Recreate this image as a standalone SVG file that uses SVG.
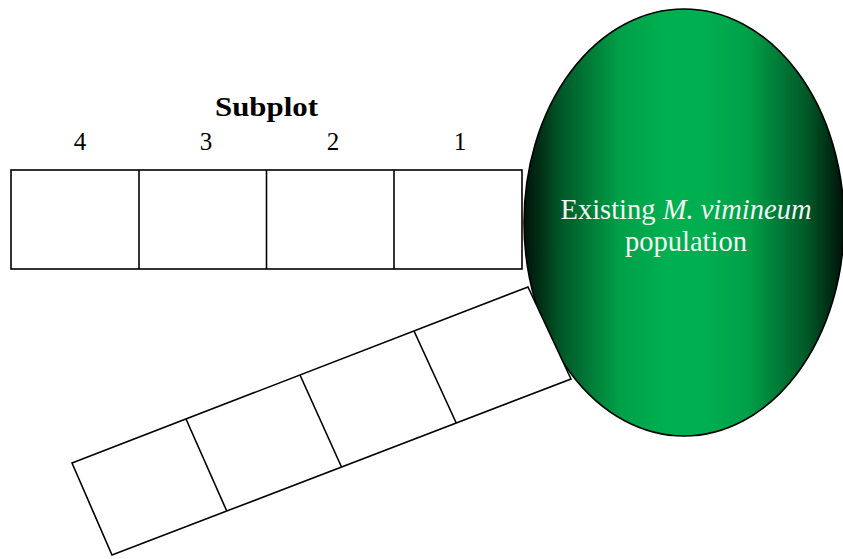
<svg xmlns="http://www.w3.org/2000/svg" width="843" height="559" viewBox="0 0 843 559">
  <defs>
    <linearGradient id="popFill" x1="0" y1="0" x2="1" y2="0">
      <stop offset="0" stop-color="#001208"/>
      <stop offset="0.12" stop-color="#005a28"/>
      <stop offset="0.3" stop-color="#00a048"/>
      <stop offset="0.45" stop-color="#00b050"/>
      <stop offset="0.55" stop-color="#00b050"/>
      <stop offset="0.7" stop-color="#00a048"/>
      <stop offset="0.88" stop-color="#005a28"/>
      <stop offset="1" stop-color="#001208"/>
    </linearGradient>
    <style>
      .cell { fill: #ffffff; stroke: #000000; stroke-width: 1.6; stroke-linejoin: miter; }
      .div { fill: none; stroke: #000000; stroke-width: 1.6; }
      .lbl { font-family: "Liberation Serif", "Times New Roman", serif; fill: #000000; text-anchor: middle; }
      .pop { font-family: "Liberation Serif", "Times New Roman", serif; fill: #f4f4f4; text-anchor: middle; font-size: 28.5px; }
    </style>
  </defs>

  <!-- source population -->
  <g id="population">
    <ellipse cx="684" cy="222.5" rx="160" ry="213.5" fill="url(#popFill)" stroke="#000000" stroke-width="1.6"/>
    <text class="pop" x="686" y="219">Existing <tspan font-style="italic">M. vimineum</tspan></text>
    <text class="pop" x="686" y="251">population</text>
  </g>

  <!-- horizontal transect of four subplots -->
  <g id="transect-horizontal">
    <rect class="cell" x="11" y="170" width="511" height="99"/>
    <line class="div" x1="139" y1="170" x2="139" y2="269"/>
    <line class="div" x1="266.5" y1="170" x2="266.5" y2="269"/>
    <line class="div" x1="394" y1="170" x2="394" y2="269"/>
  </g>

  <!-- diagonal transect of four subplots -->
  <g id="transect-diagonal">
    <polygon class="cell" points="72,463 528,287 571,379 112,555"/>
    <line class="div" x1="186" y1="419" x2="226.75" y2="511"/>
    <line class="div" x1="300" y1="375" x2="341.5" y2="467"/>
    <line class="div" x1="414" y1="331" x2="456.25" y2="423"/>
  </g>

  <!-- labels -->
  <g id="labels">
    <text class="lbl" x="266.5" y="115.5" font-size="27" font-weight="bold" textLength="103" lengthAdjust="spacingAndGlyphs">Subplot</text>
    <text class="lbl" x="80" y="150" font-size="25">4</text>
    <text class="lbl" x="206" y="150" font-size="25">3</text>
    <text class="lbl" x="333" y="150" font-size="25">2</text>
    <text class="lbl" x="460" y="150" font-size="25">1</text>
  </g>
</svg>
